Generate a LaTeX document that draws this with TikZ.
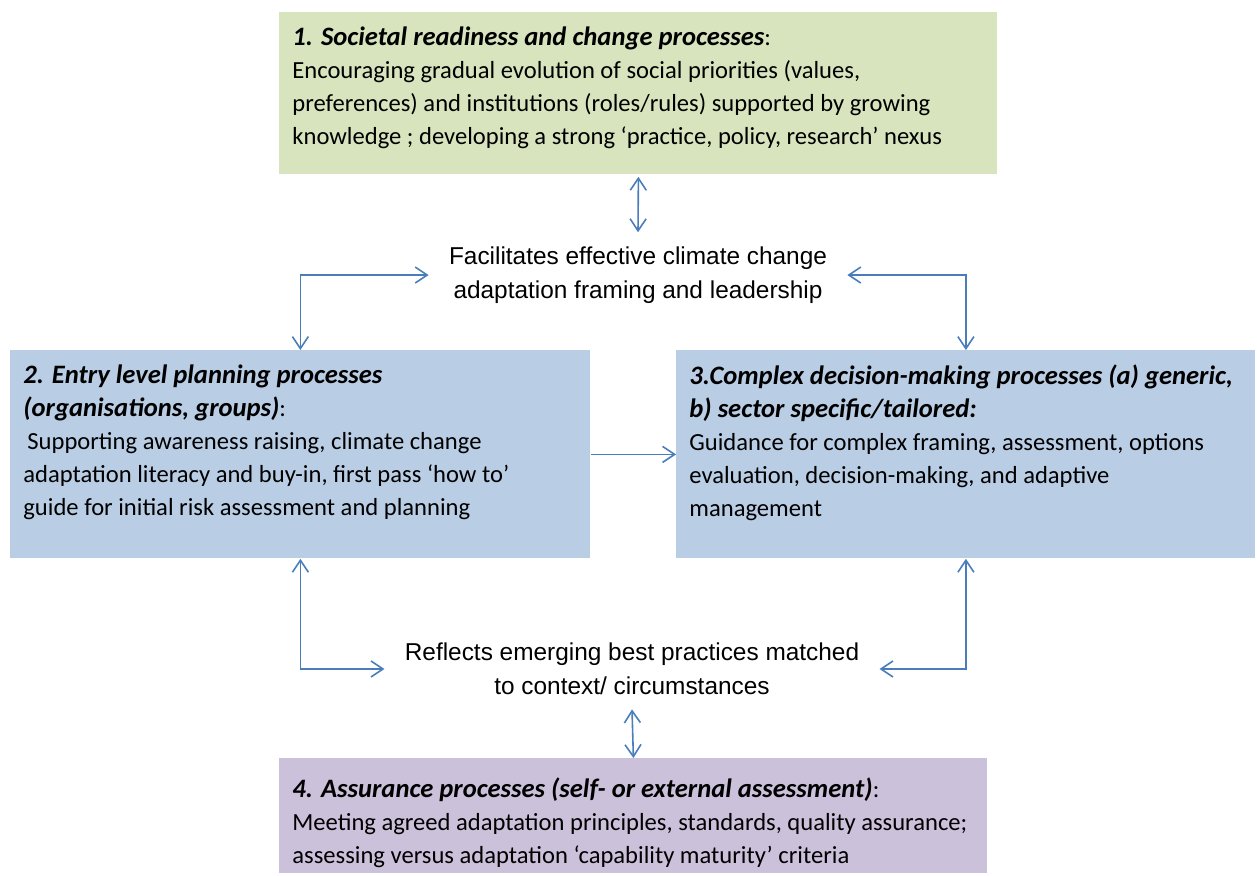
\documentclass[tikz,border=0pt]{standalone}
\usepackage{fontspec}
\setmainfont{Carlito}
\newfontfamily\arialfont{Liberation Sans}
\usetikzlibrary{arrows.meta,positioning}

\definecolor{boxgreen}{HTML}{D7E4BD}
\definecolor{boxblue}{HTML}{B9CDE5}
\definecolor{boxpurple}{HTML}{CCC1DA}
\definecolor{arrowblue}{HTML}{4A7EBB}

\newcommand{\boxtitle}[1]{{\fontsize{13.3}{16.5}\selectfont\bfseries\itshape #1}}

\begin{document}
\begin{tikzpicture}[x=1pt,y=1pt,
	procbox/.style={anchor=north west,inner xsep=6.5pt,inner ysep=7pt,font=\fontsize{12.3}{16.5}\selectfont},
	linktext/.style={align=center,inner xsep=10pt,inner ysep=7pt,font=\arialfont\fontsize{12.2}{17}\selectfont},
	link/.style={<->,>={Straight Barb[length=6pt,width=8pt]},draw=arrowblue,line width=0.8pt}]

	\useasboundingbox (0,0) rectangle (628.5,-437.5);

	\node[procbox,fill=boxgreen] (b1) at (139.5,-6) {\parbox[t][67pt][t]{346pt}{\raggedright
		\boxtitle{1. Societal readiness and change processes}:\\
		Encouraging gradual evolution of social priorities (values,\\
		preferences) and institutions (roles/rules) supported by growing\\
		knowledge ; developing a strong ‘practice, policy, research’ nexus}};

	\node[procbox,fill=boxblue] (b2) at (5,-175) {\parbox[t][90pt][t]{277pt}{\raggedright
		\boxtitle{2. Entry level planning processes}\\
		\boxtitle{(organisations, groups)}:\\
		\hspace{2pt}Supporting awareness raising, climate change\\
		adaptation literacy and buy-in, first pass ‘how to’\\
		guide for initial risk assessment and planning}};

	\node[procbox,fill=boxblue] (b3) at (338,-175) {\parbox[t][90pt][t]{276.5pt}{\raggedright
		\boxtitle{3.Complex decision-making processes (a) generic,}\\
		\boxtitle{b) sector specific/tailored:}\\
		Guidance for complex framing, assessment, options\\
		evaluation, decision-making, and adaptive\\
		management}};

	\node[procbox,fill=boxpurple,inner ysep=9.5pt] (b4) at (139.5,-379) {\parbox[t][38.5pt][t]{341pt}{\raggedright
		\boxtitle{4. Assurance processes (self- or external assessment)}:\\
		Meeting agreed adaptation principles, standards, quality assurance;\\
		assessing versus adaptation ‘capability maturity’ criteria}};

	\node[linktext] (m1) at (319,-137.5) {Facilitates effective climate change\\adaptation framing and leadership};
	\node[linktext] (m2) at (316,-334.5) {Reflects emerging best practices matched\\to context/ circumstances};

	\draw[link,shorten <=1pt] (b1.south) -- (m1.north);
	\draw[link] (m1.west) -| (b2.north);
	\draw[link] (m1.east) -| (b3.north);
	\draw[link,<-] (b3) -- (b2);
	\draw[link] (m2.west) -| (b2.south);
	\draw[link] (m2.east) -| (b3.south);
	\draw[link] (m2.south) -- (b4.north);
\end{tikzpicture}
\end{document}
